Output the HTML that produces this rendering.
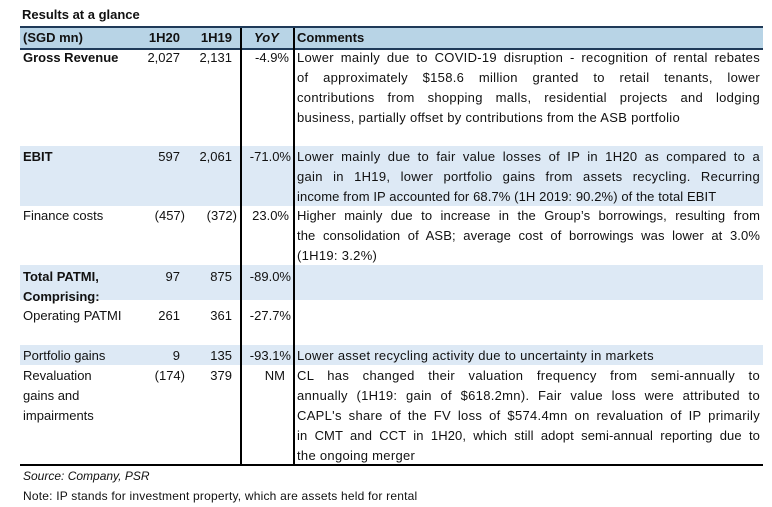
<!DOCTYPE html><html><head><style>
body{margin:0;width:772px;height:507px;background:#fff;font-family:"Liberation Sans",sans-serif;font-size:13px;color:#111;position:relative;overflow:hidden}
.a{position:absolute;white-space:nowrap;line-height:20px}
.bg{position:absolute;left:20px;width:743px}
.j{position:absolute;left:297px;width:463px;text-align:justify;text-align-last:justify;white-space:nowrap;line-height:20px;font-size:13px;letter-spacing:0.3px}
.j.l{text-align-last:left}
.n{position:absolute;text-align:right;line-height:20px}
.b{font-weight:bold}
.v{position:absolute;width:1.5px;background:#000}
</style></head><body>
<div class="a b" style="left:22px;top:5px">Results at a glance</div>
<div class="bg" style="top:26px;height:20px;background:#b8d4e6;border-top:2px solid #1f3a58;border-bottom:2px solid #1f3a58"></div>
<div class="bg" style="top:146px;height:60px;background:#dde9f5"></div>
<div class="bg" style="top:265px;height:35px;background:#dde9f5"></div>
<div class="bg" style="top:345px;height:20px;background:#dde9f5"></div>
<div class="bg" style="top:464px;height:2px;background:#000"></div>
<div class="v" style="left:240px;top:28px;height:437px"></div>
<div class="v" style="left:293px;top:28px;height:437px"></div>
<div class="a b" style="left:23px;top:28px">(SGD mn)</div>
<div class="n b" style="left:130px;width:50px;top:28px">1H20</div>
<div class="n b" style="left:182px;width:50px;top:28px">1H19</div>
<div class="a b" style="left:254px;top:28px;font-style:italic">YoY</div>
<div class="a b" style="left:297px;top:28px">Comments</div>

<div class="a b" style="left:23px;top:48px">Gross Revenue</div>
<div class="n" style="left:130px;width:50px;top:48px">2,027</div>
<div class="n" style="left:182px;width:50px;top:48px">2,131</div>
<div class="n" style="left:240px;width:49px;top:48px">-4.9%</div>
<div class="j" style="top:48px">Lower mainly due to COVID-19 disruption - recognition of rental rebates</div>
<div class="j" style="top:68px">of approximately $158.6 million granted to retail tenants, lower</div>
<div class="j" style="top:88px">contributions from shopping malls, residential projects and lodging</div>
<div class="j l" style="top:108px">business, partially offset by contributions from the ASB portfolio</div>

<div class="a b" style="left:23px;top:147px">EBIT</div>
<div class="n" style="left:130px;width:50px;top:147px">597</div>
<div class="n" style="left:182px;width:50px;top:147px">2,061</div>
<div class="n" style="left:240px;width:51px;top:147px">-71.0%</div>
<div class="j" style="top:147px">Lower mainly due to fair value losses of IP in 1H20 as compared to a</div>
<div class="j" style="top:167px">gain in 1H19, lower portfolio gains from assets recycling. Recurring</div>
<div class="j l" style="top:187px;letter-spacing:0.1px">income from IP accounted for 68.7% (1H 2019: 90.2%) of the total EBIT</div>

<div class="a" style="left:23px;top:206px">Finance costs</div>
<div class="n" style="left:130px;width:55px;top:206px">(457)</div>
<div class="n" style="left:182px;width:55px;top:206px">(372)</div>
<div class="n" style="left:240px;width:49px;top:206px">23.0%</div>
<div class="j" style="top:206px;letter-spacing:0.1px">Higher mainly due to increase in the Group’s borrowings, resulting from</div>
<div class="j" style="top:226px;letter-spacing:0.1px">the consolidation of ASB; average cost of borrowings was lower at 3.0%</div>
<div class="j l" style="top:246px">(1H19: 3.2%)</div>

<div class="a b" style="left:23px;top:267px">Total PATMI,</div>
<div class="a b" style="left:23px;top:287px">Comprising:</div>
<div class="n" style="left:130px;width:50px;top:267px">97</div>
<div class="n" style="left:182px;width:50px;top:267px">875</div>
<div class="n" style="left:240px;width:51px;top:267px">-89.0%</div>

<div class="a" style="left:23px;top:306px">Operating PATMI</div>
<div class="n" style="left:130px;width:50px;top:306px">261</div>
<div class="n" style="left:182px;width:50px;top:306px">361</div>
<div class="n" style="left:240px;width:51px;top:306px">-27.7%</div>

<div class="a" style="left:23px;top:346px">Portfolio gains</div>
<div class="n" style="left:130px;width:50px;top:346px">9</div>
<div class="n" style="left:182px;width:50px;top:346px">135</div>
<div class="n" style="left:240px;width:51px;top:346px">-93.1%</div>
<div class="j l" style="top:346px">Lower asset recycling activity due to uncertainty in markets</div>

<div class="a" style="left:23px;top:366px">Revaluation</div>
<div class="a" style="left:23px;top:386px">gains and</div>
<div class="a" style="left:23px;top:406px">impairments</div>
<div class="n" style="left:130px;width:55px;top:366px">(174)</div>
<div class="n" style="left:182px;width:50px;top:366px">379</div>
<div class="n" style="left:240px;width:45px;top:366px">NM</div>
<div class="j" style="top:366px">CL has changed their valuation frequency from semi-annually to</div>
<div class="j" style="top:386px">annually (1H19: gain of $618.2mn). Fair value loss were attributed to</div>
<div class="j" style="top:406px">CAPL's share of the FV loss of $574.4mn on revaluation of IP primarily</div>
<div class="j" style="top:426px;letter-spacing:0.1px">in CMT and CCT in 1H20, which still adopt semi-annual reporting due to</div>
<div class="j l" style="top:446px">the ongoing merger</div>

<div class="a" style="left:23px;top:466px;font-size:12px;font-style:italic">Source: Company, PSR</div>
<div class="a" style="left:23px;top:486px;font-size:12px;letter-spacing:0.2px">Note: IP stands for investment property, which are assets held for rental</div>
</body></html>
